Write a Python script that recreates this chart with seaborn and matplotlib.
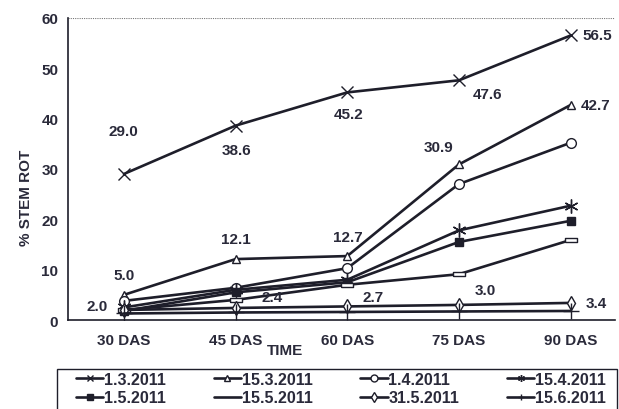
import pandas as pd
import matplotlib
matplotlib.use("Agg")
import matplotlib.pyplot as plt
import matplotlib.patches as mpatches
import seaborn as sns

# Du lieu doc tu bieu do goc
times = ["30 DAS", "45 DAS", "60 DAS", "75 DAS", "90 DAS"]
dates = ["1.3.2011", "15.3.2011", "1.4.2011", "15.4.2011",
         "1.5.2011", "15.5.2011", "31.5.2011", "15.6.2011"]
s_0103 = [29.0, 38.6, 45.2, 47.6, 56.5]
s_1503 = [5.0, 12.1, 12.7, 30.9, 42.7]
s_0104 = [3.8, 6.4, 10.3, 27.0, 35.2]
s_1504 = [2.5, 6.0, 8.0, 17.8, 22.7]
s_0105 = [1.8, 5.5, 7.5, 15.5, 19.7]
s_1505 = [2.0, 4.0, 7.0, 9.1, 15.9]
s_3105 = [2.0, 2.4, 2.7, 3.0, 3.4]
s_1506 = [1.3, 1.5, 1.6, 1.7, 1.8]
all_series = [s_0103, s_1503, s_0104, s_1504, s_0105, s_1505, s_3105, s_1506]

# nhan so lieu: (series, chi so thoi gian, dx, dy) tinh bang pixel, dy > 0 la len tren
labels = [
    (0, 0, -1, 43), (0, 1, 1, -24), (0, 2, 1, -22), (0, 3, 29, -14), (0, 4, 27, 0),
    (1, 0, 0, 20), (1, 1, 0, 20), (1, 2, 1, 19), (1, 3, -20, 17), (1, 4, 25, 0),
    (6, 0, -27, 4), (6, 1, 37, 11), (6, 2, 26, 9), (6, 3, 26, 15), (6, 4, 26, 0),
]

ink = "#1e1e2a"
txt = "#2a2a3a"
rect = [(-1, -0.35), (1, -0.35), (1, 0.35), (-1, 0.35), (-1, -0.35)]
styles = [
    dict(marker="x", ms=8, mew=1.0, mfc="none"),
    dict(marker="^", ms=6, mew=1.0, mfc="white"),
    dict(marker="o", ms=7, mew=1.0, mfc="white"),
    dict(marker=(6, 2, 0), ms=10, mew=1.0, mfc="none"),
    dict(marker="s", ms=6, mew=1.0, mfc=ink),
    dict(marker=rect, ms=9, mew=1.0, mfc="white"),
    dict(marker="d", ms=7, mew=1.0, mfc="white"),
    dict(marker="+", ms=12, mew=1.0, mfc="none"),
]

sns.set_style("white")
plt.rcParams["font.family"] = ["Liberation Sans", "DejaVu Sans"]
plt.rcParams["font.weight"] = "bold"

rows = []
for d, vals in zip(dates, all_series):
    for t, v in zip(times, vals):
        rows.append({"date": d, "time": t, "rot": v})
df = pd.DataFrame(rows)

fig = plt.figure(figsize=(6.19, 4.10), dpi=100)
ax = fig.add_axes([0.110, 0.217, 0.884, 0.737])

for d, st in zip(dates, styles):
    sns.lineplot(data=df[df["date"] == d], x="time", y="rot", ax=ax,
                 color=ink, lw=1.9, mec=ink, label=d, **st)

for si, ti, dx, dy in labels:
    ax.annotate(f"{all_series[si][ti]:.1f}", (ti, all_series[si][ti]),
                xytext=(dx, dy), textcoords="offset pixels",
                ha="center", va="center", fontsize=11, fontweight="bold",
                color=txt)

ax.set_xlim(-0.5, 4.4)
ax.set_ylim(0, 60)
ax.set_yticks(range(0, 61, 10))
ax.set_xticks(range(len(times)))
ax.set_xticklabels(times)
ax.set_xticks([0.5, 1.5, 2.5, 3.5], minor=True)
ax.tick_params(axis="x", which="major", length=0, pad=9, labelsize=11)
ax.tick_params(axis="x", which="minor", length=4, direction="out", color=ink)
ax.tick_params(axis="y", length=4, direction="out", color=ink, labelsize=11, pad=3)
for lab in ax.get_xticklabels() + ax.get_yticklabels():
    lab.set_fontweight("bold")
    lab.set_color(txt)

ax.axhline(60, color="#777777", lw=0.8, ls=(0, (1, 1)))
sns.despine(ax=ax, top=True, right=True)
ax.spines["left"].set_color(ink)
ax.spines["bottom"].set_color(ink)
ax.spines["left"].set_linewidth(1.2)
ax.spines["bottom"].set_linewidth(1.2)

ax.set_xlabel("")
ax.set_ylabel("")
fig.text(26 / 619, 1 - 198 / 410, "% STEM ROT", rotation=90, ha="center", va="center",
         fontsize=11, fontweight="bold", color=txt)
fig.text(285 / 619, 1 - 351 / 410, "TIME", ha="center", va="center", fontsize=11,
         fontweight="bold", color=txt)

# legend theo hang: matplotlib xep theo cot nen doi thu tu
handles, _ = ax.get_legend_handles_labels()
ax.get_legend().remove()
order = [0, 4, 1, 5, 2, 6, 3, 7]
leg = fig.legend([handles[i] for i in order], [dates[i] for i in order], ncol=4,
                 loc="upper left", bbox_to_anchor=(76 / 619, 1 - 373 / 410),
                 bbox_transform=fig.transFigure, frameon=False,
                 handlelength=1.7, handletextpad=0.05, columnspacing=3.0,
                 borderpad=0, labelspacing=0.2, borderaxespad=0,
                 prop={"weight": "bold", "size": 11.5})
for h, lab in zip(leg.legend_handles, leg.get_texts()):
    h.set_markersize(5)
    if lab.get_text() == "15.5.2011":
        h.set_marker("None")
    lab.set_color(txt)

# khung legend bi cat o duoi nhu anh goc
fig.patches.append(mpatches.Rectangle((57 / 619, -0.02), 560 / 619, 0.02 + 40 / 410,
                                      transform=fig.transFigure, fill=False,
                                      edgecolor=ink, lw=1.0))

fig.savefig("out.png", dpi=100)
